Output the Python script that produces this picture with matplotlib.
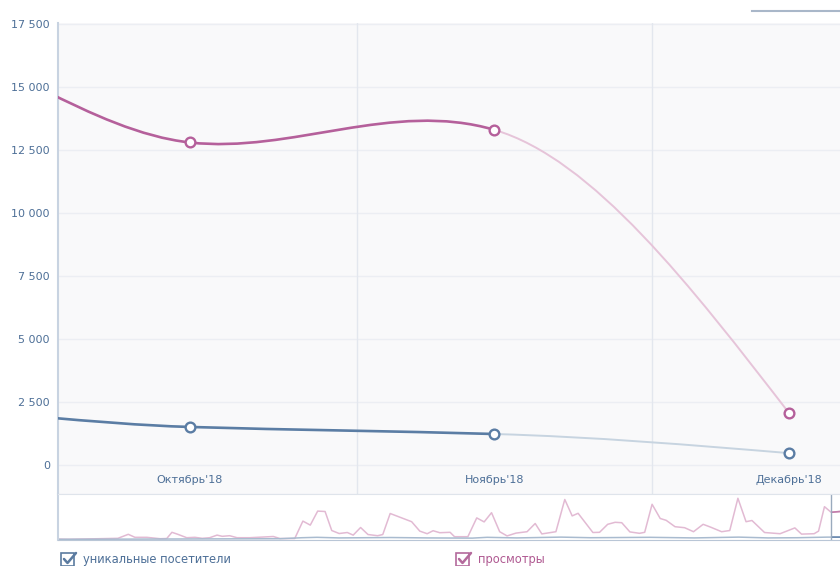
import matplotlib
matplotlib.use("Agg")
import matplotlib.pyplot as plt
from matplotlib.path import Path
from matplotlib.patches import PathPatch, Rectangle
from matplotlib.lines import Line2D

# monthly totals, x = day counted from 1 Oct 2018 (points sit mid-month)
month_days = [-47, -16, 14, 45, 75]
month_names = ["Август'18", "Сентябрь'18", "Октябрь'18", "Ноябрь'18", "Декабрь'18"]
views = [21800, 17400, 12800, 13300, 2050]
uniques = [2550, 2300, 1510, 1230, 470]
month_starts = [31, 61]
y_ticks = [0, 2500, 5000, 7500, 10000, 12500, 15000, 17500]

# navigator (daily values, x = day index of the overview strip)
nav_day = [0, 1.4, 8.1, 9.5, 10.4, 12.0, 13.8, 14.7, 15.4, 16.2,
           17.4, 18.5, 19.5, 20.5, 21.5, 22.2, 23.2, 24.2, 25.9, 29.1,
           30.0, 32.0, 33.1, 34.1, 35.1, 36.1, 37.0, 38.0, 39.1, 39.9,
           40.9, 41.9, 43.2, 43.9, 44.9, 47.8, 48.9, 49.9, 50.7, 51.6,
           53.0, 53.6, 55.4, 56.6, 57.6, 58.6, 59.7, 60.7, 61.9, 63.4,
           64.5, 65.4, 67.3, 68.5, 69.5, 70.3, 72.3, 73.2, 74.3, 75.3,
           76.2, 77.3, 78.6, 79.3, 80.3, 81.4, 82.2, 83.4, 84.7, 85.9,
           87.2, 88.2, 89.7, 90.8, 91.9, 93.0, 93.8, 95.5, 97.6, 99.6,
           100.5, 102.2, 102.8, 103.6, 104.5, 105.7]
nav_views = [10, 5, 30, 130, 55, 55, 20, 25, 180, 130,
             45, 55, 30, 45, 110, 80, 95, 45, 45, 75,
             25, 25, 460, 360, 710, 700, 225, 150, 175, 110,
             300, 125, 95, 125, 650, 445, 210, 145, 220, 170,
             180, 70, 70, 540, 440, 670, 195, 90, 160, 195,
             400, 140, 195, 1000, 590, 655, 175, 180, 380, 430,
             420, 190, 155, 180, 880, 525, 480, 320, 295, 195,
             380, 310, 195, 225, 1030, 445, 475, 175, 145, 290,
             135, 145, 210, 820, 680, 700]
nav_uniq_day = [0, 10, 20, 30, 33, 35, 38, 45, 50, 56, 58, 62, 68, 72, 80, 86, 92, 96, 100, 104, 105.7]
nav_uniq = [5, 10, 15, 20, 45, 55, 40, 50, 40, 35, 55, 40, 60, 45, 55, 40, 60, 40, 45, 60, 60]
nav_selected_from = 104.5

PINK = "#b5609b"
PINK_LIGHT = "#e6c4d9"
BLUE = "#5b7da4"
BLUE_LIGHT = "#c7d4e0"
TXT = "#4d6f97"

W, H = 840, 566
X_MIN, X_MAX = 0.61, 80.16


def px(x, y):
    return x / W, 1 - y / H


def spline_segments(xs, ys, k=0.65):
    # cardinal spline as cubic bezier pieces
    n = len(xs)
    m = [0.0] * n
    for i in range(1, n - 1):
        m[i] = k * (ys[i + 1] - ys[i - 1]) / (xs[i + 1] - xs[i - 1])
    m[0] = (3 * (ys[1] - ys[0]) / (xs[1] - xs[0]) - m[1]) / 2
    m[-1] = (3 * (ys[-1] - ys[-2]) / (xs[-1] - xs[-2]) - m[-2]) / 2
    segs = []
    for i in range(n - 1):
        h = xs[i + 1] - xs[i]
        segs.append([(xs[i], ys[i]),
                     (xs[i] + h / 3, ys[i] + m[i] * h / 3),
                     (xs[i + 1] - h / 3, ys[i + 1] - m[i + 1] * h / 3),
                     (xs[i + 1], ys[i + 1])])
    return segs


def draw_series(ax, ys, color, light):
    segs = spline_segments(month_days, ys)
    codes = [Path.MOVETO, Path.CURVE4, Path.CURVE4, Path.CURVE4]
    for i, seg in enumerate(segs):
        last = i == len(segs) - 1
        ax.add_patch(PathPatch(Path(seg, codes), fill=False,
                               edgecolor=light if last else color,
                               lw=1.4 if last else 1.9, capstyle="round", zorder=3))
    ax.plot(month_days, ys, "o", mfc="white", mec=color, ms=7, mew=1.7, zorder=5)


fig = plt.figure(figsize=(W / 100, H / 100), dpi=100)

# ----------------------------
# main chart
# ----------------------------
ax = fig.add_axes([58 / W, 1 - 494 / H, 782 / W, 471 / H])
ax.set_facecolor("#f9f9fa")
ax.set_xlim(X_MIN, X_MAX)
ax.set_ylim(-1151, 17540)

for v in y_ticks:
    ax.axhline(v, color="#eceef3", lw=1, zorder=1)
for d in month_starts:
    ax.axvline(d, color="#e3e7ee", lw=1, zorder=1)

draw_series(ax, views, PINK, PINK_LIGHT)
draw_series(ax, uniques, BLUE, BLUE_LIGHT)

ax.set_xticks([])
ax.set_yticks(y_ticks)
ax.set_yticklabels([f"{v:,}".replace(",", " ") for v in y_ticks])
ax.tick_params(axis="y", length=0, pad=5.8, labelsize=8, labelcolor=TXT)
for d, name in zip(month_days, month_names):
    if X_MIN < d < X_MAX:
        ax.text(d, -590, name, ha="center", va="center", fontsize=8, color=TXT)

for s in ["top", "right"]:
    ax.spines[s].set_visible(False)
ax.spines["left"].set_color("#c8d3e1")
ax.spines["left"].set_linewidth(1.5)
ax.spines["bottom"].set_color("#dfe4eb")

# ----------------------------
# navigator strip
# ----------------------------
nav = fig.add_axes([58 / W, 1 - 540 / H, 782 / W, 46 / H])
nav.set_xlim(0, 105.7)
nav.set_ylim(-12, 1137)
nav.set_xticks([])
nav.set_yticks([])
nav.spines["right"].set_visible(False)
nav.spines["left"].set_color("#c8d3e1")
nav.spines["left"].set_linewidth(1.5)
nav.spines["top"].set_color("#dfe4eb")
nav.spines["bottom"].set_color("#b9c6d6")

nav.plot(nav_day, nav_views, color="#e2bad3", lw=1.1)
nav.plot(nav_uniq_day, nav_uniq, color="#a9bbcf", lw=1.1)
sel = Rectangle((nav_selected_from, -100), 10, 2000, transform=nav.transData)
for xs, ys, c in [(nav_day, nav_views, "#c27dab"), (nav_uniq_day, nav_uniq, "#6b8ab0")]:
    ln, = nav.plot(xs, ys, color=c, lw=1.2)
    ln.set_clip_path(sel)
nav.axvline(nav_selected_from, color="#9aaabd", lw=1)

# ----------------------------
# bits of the page around the chart
# ----------------------------
fig.add_artist(Line2D([px(752, 0)[0], 1], [px(0, 11)[1]] * 2, color="#a9b7c9", lw=1.5))

for bx, label, c, tc in [(61, "уникальные посетители", "#5b7ba0", TXT),
                         (456, "просмотры", "#b46a9c", "#b05a92")]:
    x0, y0 = px(bx, 566)
    fig.add_artist(Rectangle((x0, y0), 13 / W, 13 / H, transform=fig.transFigure,
                             facecolor="white", edgecolor=c, lw=1.2))
    cx, cy = zip(px(bx + 3, 559), px(bx + 6.5, 563), px(bx + 15, 553))
    fig.add_artist(Line2D(cx, cy, color=c, lw=1.8, solid_capstyle="round"))
    tx, ty = px(bx + 22, 562.5)
    fig.text(tx, ty, label, fontsize=8.3, color=tc, va="baseline")

fig.savefig("out.png", dpi=100)
